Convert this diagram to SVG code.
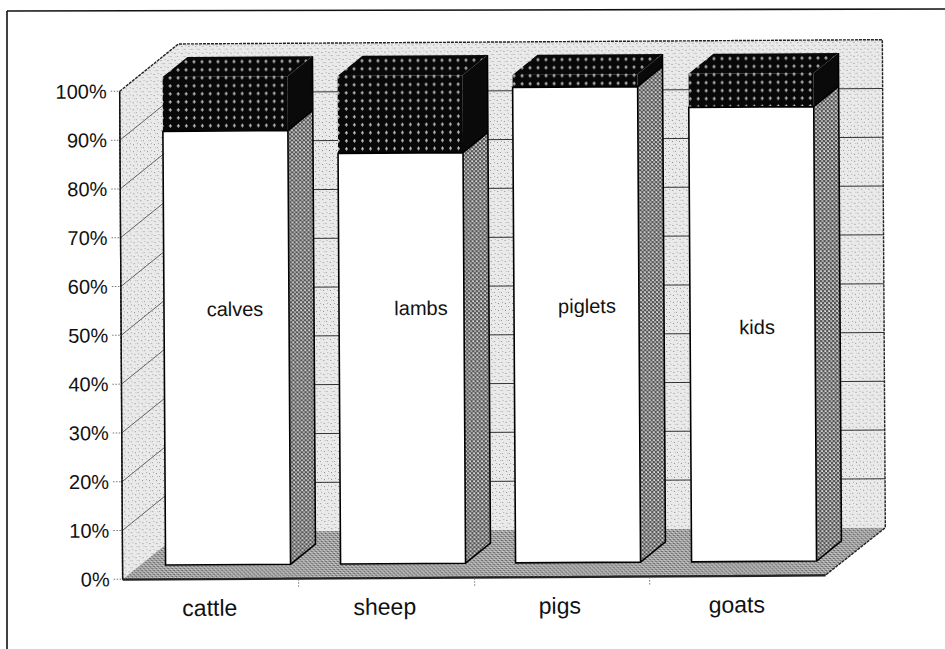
<svg xmlns="http://www.w3.org/2000/svg" width="945" height="649" viewBox="0 0 945 649">
<style>
.ax{font-family:"Liberation Sans",Arial,sans-serif;font-size:20px;fill:#111;text-anchor:end}
.cat{font-family:"Liberation Sans",Arial,sans-serif;font-size:23px;fill:#111;text-anchor:middle}
.lbl{font-family:"Liberation Sans",Arial,sans-serif;font-size:20px;fill:#111;text-anchor:middle}
.grid{stroke:#333;stroke-width:1;fill:none}
.diag{stroke:#555;stroke-width:0.9;fill:none}
.tick{stroke:#777;stroke-width:1;stroke-dasharray:1.5 1.5;fill:none}
.edge{stroke:#222;stroke-width:1.4;fill:none}
.out{stroke:#000;stroke-width:1.6;fill:none;stroke-linejoin:miter}
</style>
<defs>
<pattern id="pLite" width="7" height="7" patternUnits="userSpaceOnUse">
<rect width="7" height="7" fill="#eaeaea"/>
<rect x="1" y="2" width="1" height="1" fill="#888"/>
<rect x="4" y="5" width="1" height="1" fill="#999"/>
<rect x="5" y="1" width="1" height="1" fill="#aaa"/>
<rect x="2" y="5" width="1" height="1" fill="#c0c0c0"/>
</pattern>
<pattern id="pFloor" width="4" height="4" patternUnits="userSpaceOnUse">
<rect width="4" height="4" fill="#a4a4a4"/>
<rect x="0" y="0" width="1" height="1" fill="#3a3a3a"/>
<rect x="2" y="2" width="1" height="1" fill="#4a4a4a"/>
<rect x="1" y="3" width="1" height="1" fill="#e8e8e8"/>
<rect x="3" y="1" width="1" height="1" fill="#dcdcdc"/>
</pattern>
<pattern id="pSide" width="4" height="4" patternUnits="userSpaceOnUse">
<rect width="4" height="4" fill="#555"/>
<rect x="0" y="0" width="2" height="2" fill="#b8b8b8"/>
<rect x="2" y="2" width="2" height="2" fill="#aaa"/>
<rect x="1" y="1" width="1" height="1" fill="#e6e6e6"/>
</pattern>
<pattern id="pBlk" width="8" height="8" patternUnits="userSpaceOnUse">
<rect width="8" height="8" fill="#080808"/>
<rect x="2" y="3" width="3" height="2" fill="#808080"/>
<rect x="3" y="2" width="1" height="4" fill="#9a9a9a"/>
<rect x="3" y="3" width="1" height="1" fill="#e0e0e0"/>
</pattern>
</defs>

<g id="frame">
<line x1="7" y1="11" x2="945" y2="9" stroke="#111" stroke-width="1.6"/>
<line x1="7" y1="11" x2="7" y2="649" stroke="#111" stroke-width="1.6"/>
</g>

<g id="chart" transform="rotate(-0.35 500 310)">
<g id="walls">
<rect x="180" y="42" width="704" height="488" fill="url(#pLite)"/>
<polygon points="121,89 180,42 180,530 121,577" fill="url(#pLite)"/>
<polygon points="121,577 824,577 884,530 180,530" fill="url(#pFloor)"/>
<g class="grid">
<line x1="180" y1="90.8" x2="884" y2="90.8"/>
<line x1="180" y1="139.6" x2="884" y2="139.6"/>
<line x1="180" y1="188.4" x2="884" y2="188.4"/>
<line x1="180" y1="237.2" x2="884" y2="237.2"/>
<line x1="180" y1="286" x2="884" y2="286"/>
<line x1="180" y1="334.8" x2="884" y2="334.8"/>
<line x1="180" y1="383.6" x2="884" y2="383.6"/>
<line x1="180" y1="432.4" x2="884" y2="432.4"/>
<line x1="180" y1="481.2" x2="884" y2="481.2"/>
</g>
<g class="diag">
<line x1="121" y1="137.8" x2="180" y2="90.8"/>
<line x1="121" y1="186.6" x2="180" y2="139.6"/>
<line x1="121" y1="235.4" x2="180" y2="188.4"/>
<line x1="121" y1="284.2" x2="180" y2="237.2"/>
<line x1="121" y1="333" x2="180" y2="286"/>
<line x1="121" y1="381.8" x2="180" y2="334.8"/>
<line x1="121" y1="430.6" x2="180" y2="383.6"/>
<line x1="121" y1="479.4" x2="180" y2="432.4"/>
<line x1="121" y1="528.2" x2="180" y2="481.2"/>
</g>
<path class="edge" d="M121,577 V89 L180,42 H884 V530 L824,577 H121" stroke-dasharray="3 1"/>
<line x1="121" y1="577" x2="121" y2="89" stroke="#111" stroke-width="1.4"/>
<line x1="121" y1="577.5" x2="824" y2="577.5" stroke="#222" stroke-width="2"/>
<g class="tick">
<line x1="112" y1="89" x2="121" y2="89"/>
<line x1="112" y1="137.8" x2="121" y2="137.8"/>
<line x1="112" y1="186.6" x2="121" y2="186.6"/>
<line x1="112" y1="235.4" x2="121" y2="235.4"/>
<line x1="112" y1="284.2" x2="121" y2="284.2"/>
<line x1="112" y1="333" x2="121" y2="333"/>
<line x1="112" y1="381.8" x2="121" y2="381.8"/>
<line x1="112" y1="430.6" x2="121" y2="430.6"/>
<line x1="112" y1="479.4" x2="121" y2="479.4"/>
<line x1="112" y1="528.2" x2="121" y2="528.2"/>
<line x1="112" y1="577" x2="121" y2="577"/>
<line x1="297" y1="578" x2="297" y2="586"/>
<line x1="473" y1="578" x2="473" y2="586"/>
<line x1="648" y1="578" x2="648" y2="586"/>
</g>
</g>

<g id="axis-labels">
<text class="ax" x="108" y="96">100%</text>
<text class="ax" x="108" y="144.8">90%</text>
<text class="ax" x="108" y="193.6">80%</text>
<text class="ax" x="108" y="242.4">70%</text>
<text class="ax" x="108" y="291.2">60%</text>
<text class="ax" x="108" y="340">50%</text>
<text class="ax" x="108" y="388.8">40%</text>
<text class="ax" x="108" y="437.6">30%</text>
<text class="ax" x="108" y="486.4">20%</text>
<text class="ax" x="108" y="535.2">10%</text>
<text class="ax" x="108" y="584">0%</text>
</g>

<g id="bar-cattle">
<rect x="164" y="75" width="125" height="54.3" fill="url(#pBlk)"/>
<polygon points="164,75 189,55 314,55 289,75" fill="url(#pBlk)"/>
<polygon points="289,75 314,55 314,109.3 289,129.3" fill="#0a0a0a"/>
<polygon points="289,129.3 314,109.3 314,543 289,563" fill="url(#pSide)"/>
<rect x="164" y="129.3" width="125" height="433.7" fill="#fff"/>
<path class="out" d="M164,563 V129.3 H289 V563 Z M289,563 L314,543 V55 M289,129.3 L314,109.3"/>
<text class="lbl" x="235" y="314.4">calves</text>
</g>

<g id="bar-sheep">
<rect x="339" y="75" width="125" height="77.4" fill="url(#pBlk)"/>
<polygon points="339,75 364,55 489,55 464,75" fill="url(#pBlk)"/>
<polygon points="464,75 489,55 489,132.4 464,152.4" fill="#0a0a0a"/>
<polygon points="464,152.4 489,132.4 489,543 464,563" fill="url(#pSide)"/>
<rect x="339" y="152.4" width="125" height="410.6" fill="#fff"/>
<path class="out" d="M339,563 V152.4 H464 V563 Z M464,563 L489,543 V55 M464,152.4 L489,132.4"/>
<text class="lbl" x="421" y="314.5">lambs</text>
</g>

<g id="bar-pigs">
<rect x="514" y="75" width="125" height="12.5" fill="url(#pBlk)"/>
<polygon points="514,75 539,55 664,55 639,75" fill="url(#pBlk)"/>
<polygon points="639,75 664,55 664,67.5 639,87.5" fill="#0a0a0a"/>
<polygon points="639,87.5 664,67.5 664,543 639,563" fill="url(#pSide)"/>
<rect x="514" y="87.5" width="125" height="475.5" fill="#fff"/>
<path class="out" d="M514,563 V87.5 H639 V563 Z M639,563 L664,543 V55 M639,87.5 L664,67.5"/>
<text class="lbl" x="587" y="313.5">piglets</text>
</g>

<g id="bar-goats">
<rect x="690" y="75" width="125" height="33.5" fill="url(#pBlk)"/>
<polygon points="690,75 715,55 840,55 815,75" fill="url(#pBlk)"/>
<polygon points="815,75 840,55 840,88.5 815,108.5" fill="#0a0a0a"/>
<polygon points="815,108.5 840,88.5 840,543 815,563" fill="url(#pSide)"/>
<rect x="690" y="108.5" width="125" height="454.5" fill="#fff"/>
<path class="out" d="M690,563 V108.5 H815 V563 Z M815,563 L840,543 V55 M815,108.5 L840,88.5"/>
<text class="lbl" x="757" y="335.6">kids</text>
</g>

<g id="category-labels">
<text class="cat" x="208" y="614">cattle</text>
<text class="cat" x="383" y="614">sheep</text>
<text class="cat" x="558" y="614">pigs</text>
<text class="cat" x="735" y="614">goats</text>
</g>
</g>
</svg>
